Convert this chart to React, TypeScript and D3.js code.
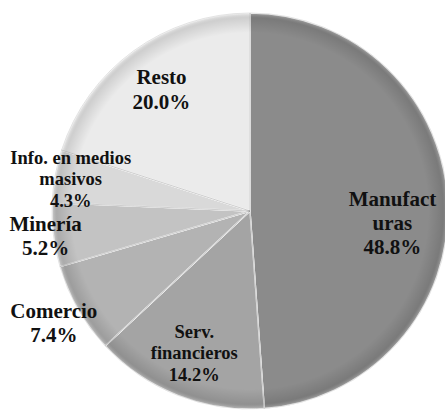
import React from "react";
import * as d3 from "d3";

const categories = ["Manufacturas", "Serv. financieros", "Comercio", "Minería", "Info. en medios masivos", "Resto"];
const shares = [48.8, 14.2, 7.4, 5.2, 4.3, 20.0];
const labelLines = [
  ["Manufact", "uras", "48.8%"],
  ["Serv.", "financieros", "14.2%"],
  ["Comercio", "7.4%"],
  ["Minería", "5.2%"],
  ["Info. en medios", "masivos", "4.3%"],
  ["Resto", "20.0%"],
];
const fills = ["#8b8b8b", "#a4a4a4", "#b3b3b3", "#c3c3c3", "#d9d9d9", "#ebebeb"];

// label placement, as in the original layout
const labelRadius = [0.72, 0.77, 1.14, 1.04, 0.92, 0.76];
const labelShift = [17, 0, 0, 0, 0, 0];
const labelSize = [21, 18.5, 21, 21, 18.5, 21];

const width = 445;
const height = 413;
const cx = 250;
const cy = 211;
const radius = 198;

export default function App() {
  const pie = d3
    .pie<number>()
    .sort(null)
    .value((d) => d);
  const arcs = pie(shares);
  const arc = d3.arc<d3.PieArcDatum<number>>().innerRadius(0).outerRadius(radius);

  return (
    <svg
      width={width}
      height={height}
      style={{ position: "absolute", left: 0, top: 0, background: "#fff" }}
    >
      <defs>
        <radialGradient id="rim" cx="0" cy="0" r={radius} gradientUnits="userSpaceOnUse">
          <stop offset="0.9" stopColor="#000" stopOpacity="0" />
          <stop offset="0.975" stopColor="#000" stopOpacity="0.12" />
          <stop offset="1" stopColor="#fff" stopOpacity="0.25" />
        </radialGradient>
      </defs>
      <g transform={`translate(${cx},${cy})`}>
        {arcs.map((a, i) => (
          <path key={categories[i]} d={arc(a) ?? ""} fill={fills[i]} stroke="#fff" strokeWidth={1.4} />
        ))}
        {arcs.map((a, i) => (
          <path key={"rim" + i} d={arc(a) ?? ""} fill="url(#rim)" stroke="#777" strokeOpacity={0.35} strokeWidth={0.6} />
        ))}
        {arcs.map((a, i) => {
          const mid = (a.startAngle + a.endAngle) / 2;
          const r = radius * labelRadius[i];
          const x = Math.sin(mid) * r;
          const y = -Math.cos(mid) * r + labelShift[i];
          const fs = labelSize[i];
          const lh = fs * 1.16;
          const n = labelLines[i].length;
          const y0 = y - ((n - 1) * lh) / 2 + fs * 0.34;
          return (
            <text
              key={"lab" + i}
              x={x}
              y={y0}
              textAnchor="middle"
              style={{
                fontFamily: '"Times New Roman", Tinos, "Liberation Serif", "DejaVu Serif", "Noto Serif", Times, serif',
                fontWeight: 700,
                fontSize: fs,
              }}
              fill="#111"
            >
              {labelLines[i].map((t, j) => (
                <tspan key={j} x={x} y={y0 + j * lh}>
                  {t}
                </tspan>
              ))}
            </text>
          );
        })}
      </g>
    </svg>
  );
}
